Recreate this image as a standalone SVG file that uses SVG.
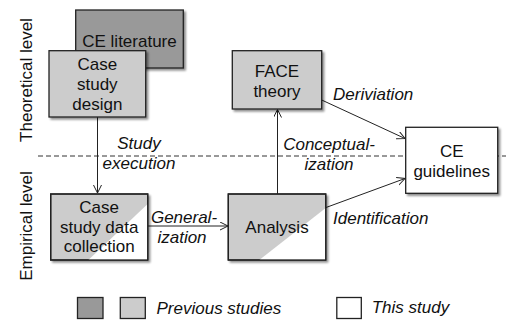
<svg xmlns="http://www.w3.org/2000/svg" width="506" height="320" viewBox="0 0 506 320">
<defs>
<filter id="sh" x="-10%" y="-10%" width="130%" height="130%">
<feGaussianBlur in="SourceAlpha" stdDeviation="1.2"/>
<feOffset dx="2" dy="2" result="b"/>
<feComponentTransfer><feFuncA type="linear" slope="0.45"/></feComponentTransfer>
<feMerge><feMergeNode/><feMergeNode in="SourceGraphic"/></feMerge>
</filter>
<marker id="arr" markerWidth="10" markerHeight="10" refX="8" refY="4" orient="auto" markerUnits="userSpaceOnUse">
<path d="M0,0 L8,4 L0,8" fill="none" stroke="#222" stroke-width="1"/>
</marker>
</defs>
<style>
text{font-family:"Liberation Sans",Arial,sans-serif;font-size:17px;fill:#111}
.c{text-anchor:middle}
.i{font-style:italic}
.box{stroke:#222;stroke-width:1.3}
.dark{fill:#999}
.light{fill:#ccc}
.white{fill:#fff}
.edge{stroke:#222;stroke-width:1;fill:none}
</style>

<line x1="38" y1="156" x2="506" y2="156" stroke="#333" stroke-width="1" stroke-dasharray="5,3"/>

<text class="c" transform="translate(32,80) rotate(-90)">Theoretical level</text>
<text class="c" transform="translate(32,226) rotate(-90)">Empirical level</text>

<g id="edges">
<line class="edge" x1="97.5" y1="117" x2="97.5" y2="193" marker-end="url(#arr)"/>
<line class="edge" x1="148" y1="226" x2="228" y2="226" marker-end="url(#arr)"/>
<line class="edge" x1="277.5" y1="194" x2="277.5" y2="109.5" marker-end="url(#arr)"/>
<line class="edge" x1="321.7" y1="100" x2="405" y2="138.5" marker-end="url(#arr)"/>
<line class="edge" x1="326" y1="207.5" x2="405" y2="178.5" marker-end="url(#arr)"/>
<text class="c i" x="139" y="149">Study</text>
<text class="c i" x="139" y="169">execution</text>
<text class="c i" x="184" y="223">General-</text>
<text class="c i" x="182" y="243">ization</text>
<text class="c i" x="329" y="150">Conceptual-</text>
<text class="c i" x="329" y="170">ization</text>
<text class="i" x="333" y="99.5">Deriviation</text>
<text class="i" x="333" y="224">Identification</text>
</g>

<g id="ce-literature">
<rect class="box dark" x="75.7" y="10" width="107.6" height="58" filter="url(#sh)"/>
<text class="c" x="129.5" y="47">CE literature</text>
</g>

<g id="case-study-design">
<rect class="box light" x="49" y="50.7" width="96.7" height="66.3" filter="url(#sh)"/>
<text class="c" x="97.3" y="70">Case</text>
<text class="c" x="97.3" y="90">study</text>
<text class="c" x="97.3" y="110">design</text>
</g>

<g id="face-theory">
<rect class="box light" x="232.3" y="50.7" width="89.4" height="58.3" filter="url(#sh)"/>
<text class="c" x="277" y="76.7">FACE</text>
<text class="c" x="277" y="96.5">theory</text>
</g>

<g id="ce-guidelines">
<rect class="box white" x="405.7" y="127.3" width="92" height="66" filter="url(#sh)"/>
<text class="c" x="451.7" y="157">CE</text>
<text class="c" x="451.7" y="177">guidelines</text>
</g>

<g id="case-study-data-collection">
<rect class="box light" x="50.7" y="194" width="97" height="66" filter="url(#sh)"/>
<path d="M88.3,260 L147.7,204 L147.7,260 Z" fill="#fff"/>
<rect x="50.7" y="194" width="97" height="66" fill="none" stroke="#222" stroke-width="1.3"/>
<text class="c" x="99.2" y="213">Case</text>
<text class="c" x="99.2" y="232.5">study data</text>
<text class="c" x="99.2" y="252">collection</text>
</g>

<g id="analysis">
<rect class="box light" x="228.3" y="194" width="97.4" height="66" filter="url(#sh)"/>
<path d="M259.3,260 L325.7,208 L325.7,260 Z" fill="#fff"/>
<rect x="228.3" y="194" width="97.4" height="66" fill="none" stroke="#222" stroke-width="1.3"/>
<text class="c" x="277" y="233">Analysis</text>
</g>

<g id="legend">
<rect class="box dark" x="77.5" y="297.5" width="25.5" height="21"/>
<rect class="box light" x="120.3" y="297.5" width="25" height="21"/>
<text class="i" x="156.5" y="314">Previous studies</text>
<rect class="box white" x="336.8" y="297.5" width="24.5" height="21"/>
<text class="i" x="371.7" y="313">This study</text>
</g>
</svg>
